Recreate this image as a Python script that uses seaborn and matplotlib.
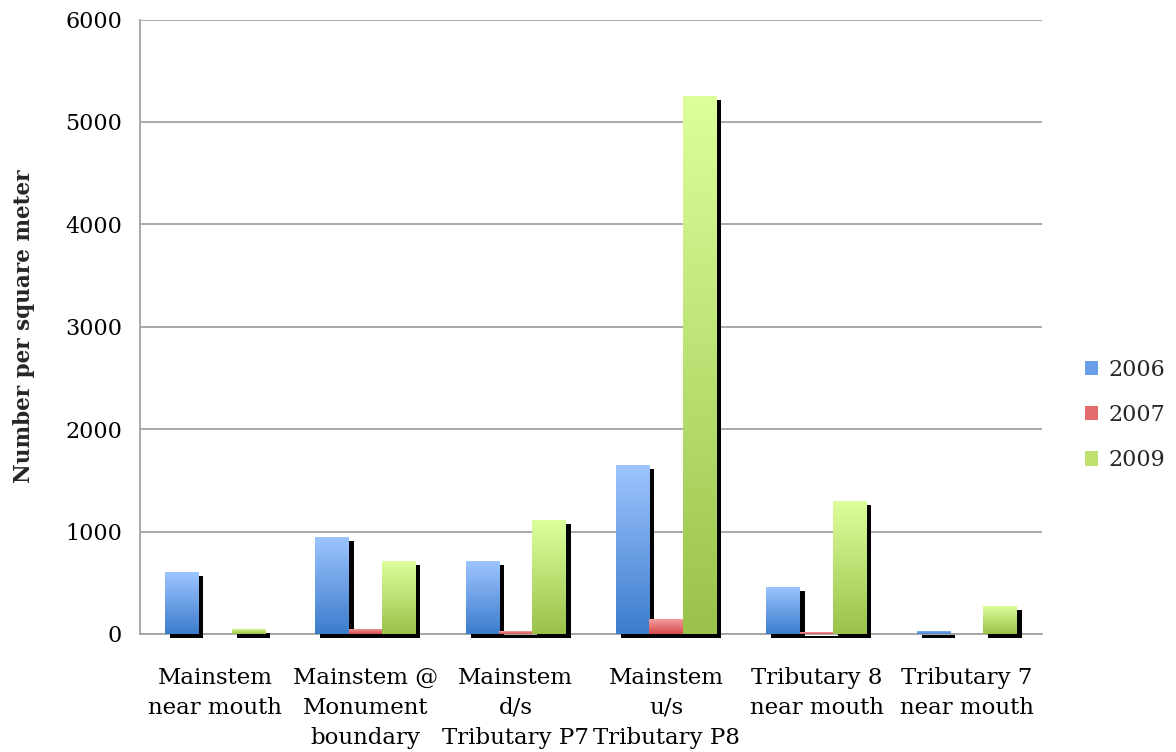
import numpy as np
import pandas as pd
import matplotlib
matplotlib.use("Agg")
import matplotlib.pyplot as plt
import matplotlib.patches as mpatches
from matplotlib.colors import LinearSegmentedColormap
from matplotlib.transforms import ScaledTranslation
import seaborn as sns

# Density of organisms at each sampling site, by survey year
sites = [
    "Mainstem\nnear mouth",
    "Mainstem @\nMonument\nboundary",
    "Mainstem\nd/s\nTributary P7",
    "Mainstem\nu/s\nTributary P8",
    "Tributary 8\nnear mouth",
    "Tributary 7\nnear mouth",
]
years = ["2006", "2007", "2009"]
density_2006 = [600, 950, 710, 1650, 460, 30]
density_2007 = [0, 50, 25, 150, 15, 0]
density_2009 = [50, 710, 1110, 5250, 1300, 275]

# light (top) and dark (bottom) shades of each series' gradient fill
top_colors = {"2006": "#9DC5FF", "2007": "#F7A3A3", "2009": "#DDFF9C"}
bottom_colors = {"2006": "#3C7CCC", "2007": "#D44A4A", "2009": "#9AC24A"}
mid_colors = {"2006": "#6A9FE8", "2007": "#E46C6C", "2009": "#BDE06E"}

df = pd.DataFrame({
    "site": np.repeat(sites, len(years)),
    "year": years * len(sites),
    "density": [v for triple in zip(density_2006, density_2007, density_2009) for v in triple],
})

sns.set_theme(style="white")
plt.rcParams["font.family"] = ["DejaVu Serif"]

fig = plt.figure(figsize=(11.76, 7.52), dpi=100)
ax = fig.add_axes([0.119, 0.157, 0.767, 0.817])

sns.barplot(
    data=df, x="site", y="density", hue="year", hue_order=years,
    order=sites, palette=mid_colors, width=0.665, saturation=1,
    errorbar=None, legend=False, ax=ax, linewidth=0, zorder=3,
)

# Gradient fill and drop shadow for every bar
shadow_shift = ScaledTranslation(5 / 100, -4 / 100, fig.dpi_scale_trans)
grad = np.linspace(1, 0, 256).reshape(-1, 1)
for container, year in zip(ax.containers, years):
    cmap = LinearSegmentedColormap.from_list(
        f"g{year}", [bottom_colors[year], top_colors[year]])
    for bar in container:
        x, y = bar.get_x(), bar.get_y()
        w, h = bar.get_width(), bar.get_height()
        if h <= 0:
            continue
        shadow = mpatches.Rectangle(
            (x, y), w, h, facecolor="black", edgecolor="none",
            transform=ax.transData + shadow_shift, zorder=2, clip_on=False)
        ax.add_patch(shadow)
        img = ax.imshow(grad, cmap=cmap, aspect="auto", extent=(x, x + w, y, y + h),
                        zorder=4, interpolation="bilinear")
        img.set_clip_path(bar)
ax.set_aspect("auto")
ax.set_xlim(-0.5, len(sites) - 0.5)
ax.set_ylim(0, 6000)

# Axes styling
grid_color = "#A3A3A3"
ax.yaxis.grid(True, color=grid_color, linewidth=1.3, zorder=0)
ax.xaxis.grid(False)
ax.set_axisbelow(True)
for side in ["top", "right"]:
    ax.spines[side].set_visible(False)
for side in ["left", "bottom"]:
    ax.spines[side].set_color(grid_color)
    ax.spines[side].set_linewidth(1.3)
    ax.spines[side].set_zorder(1)

ax.set_yticks(range(0, 6001, 1000))
ax.tick_params(axis="y", which="major", direction="out", length=6, width=1.2,
               color=grid_color, labelsize=16, pad=7)
ax.tick_params(axis="x", which="major", length=0, labelsize=16.5, pad=24)
ax.set_xticks(np.arange(-0.5, len(sites), 1.0), minor=True)
ax.tick_params(axis="x", which="minor", direction="out", length=8, width=1.2,
               color=grid_color)
ax.set_xticklabels(sites, linespacing=1.45)
for lbl in ax.get_xticklabels() + ax.get_yticklabels():
    lbl.set_color("black")

ax.set_xlabel("")
ax.set_ylabel("Number per square meter", fontsize=15.5, fontweight="bold")
ax.yaxis.set_label_coords(-0.116, 0.5)

handles = [mpatches.Patch(facecolor=mid_colors[y], edgecolor="none", label=y) for y in years]
fig.legend(handles=handles, loc="center left", bbox_to_anchor=(1085 / 1176, 1 - 415 / 752),
           frameon=False, fontsize=16, handlelength=0.6, handleheight=0.6,
           handletextpad=0.45, labelspacing=1.05, borderpad=0, borderaxespad=0)

fig.savefig("out.png", dpi=100)
